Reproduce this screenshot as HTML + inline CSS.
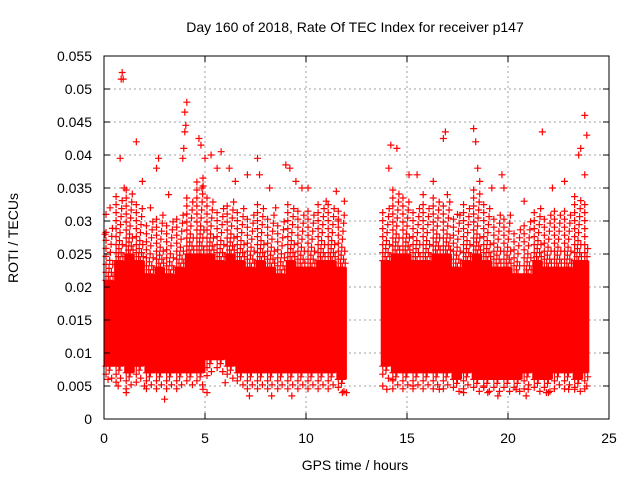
<!DOCTYPE html>
<html><head><meta charset="utf-8"><style>
body{margin:0;background:#fff;}
svg text{font-family:"Liberation Sans","DejaVu Sans",sans-serif;font-size:14px;fill:#000;}
</style></head><body>
<svg id="chart" width="640" height="480" viewBox="0 0 640 480" xmlns="http://www.w3.org/2000/svg">
<rect width="640" height="480" fill="#fff"/>
<text x="355" y="32" text-anchor="middle">Day 160 of 2018, Rate Of TEC Index for receiver p147</text>
<text x="355" y="470" text-anchor="middle">GPS time / hours</text>
<text transform="translate(18,238) rotate(-90)" text-anchor="middle">ROTI / TECUs</text>
<g id="grid"></g>
<g id="core"></g>
<g id="pts"></g>
<g id="axes"></g>
</svg>
<script>
const xTicks=[0,5,10,15,20,25];
const yTicks=[0,0.005,0.01,0.015,0.02,0.025,0.03,0.035,0.04,0.045,0.05,0.055];
const yTickLabels=["0","0.005","0.01","0.015","0.02","0.025","0.03","0.035","0.04","0.045","0.05","0.055"];
const bandStart=[0,0.5,1,1.5,2,2.5,3,3.5,4,4.5,5,5.5,6,6.5,7,7.5,8,8.5,9,9.5,10,10.5,11,11.5,13.7,14.2,14.7,15.2,15.7,16.2,16.7,17.2,17.7,18.2,18.7,19.2,19.7,20.2,20.7,21.2,21.7,22.2,22.7,23.2,23.7];
const bandEnd=[0.5,1,1.5,2,2.5,3,3.5,4,4.5,5,5.5,6,6.5,7,7.5,8,8.5,9,9.5,10,10.5,11,11.5,12,14.2,14.7,15.2,15.7,16.2,16.7,17.2,17.7,18.2,18.7,19.2,19.7,20.2,20.7,21.2,21.7,22.2,22.7,23.2,23.7,24];
const bandLow=[0.008,0.008,0.007,0.008,0.007,0.007,0.007,0.007,0.007,0.007,0.009,0.009,0.008,0.007,0.007,0.007,0.007,0.007,0.007,0.007,0.007,0.007,0.007,0.006,0.008,0.007,0.007,0.007,0.007,0.007,0.007,0.006,0.007,0.006,0.006,0.006,0.006,0.006,0.007,0.006,0.006,0.007,0.007,0.006,0.007];
const bandHigh=[0.021,0.024,0.025,0.024,0.022,0.023,0.022,0.023,0.025,0.025,0.025,0.024,0.025,0.024,0.023,0.024,0.023,0.022,0.024,0.023,0.023,0.024,0.024,0.023,0.024,0.025,0.025,0.024,0.024,0.025,0.025,0.023,0.024,0.025,0.024,0.023,0.023,0.022,0.022,0.024,0.023,0.023,0.023,0.024,0.024];
const sparseHigh=[0.029,0.034,0.035,0.033,0.030,0.031,0.030,0.031,0.034,0.036,0.034,0.032,0.033,0.032,0.031,0.033,0.031,0.030,0.033,0.032,0.032,0.033,0.033,0.032,0.032,0.035,0.034,0.032,0.033,0.034,0.033,0.031,0.033,0.035,0.033,0.031,0.031,0.029,0.030,0.032,0.031,0.032,0.032,0.034,0.033];
const sparseLow=[0.006,0.005,0.0045,0.005,0.0045,0.0045,0.0045,0.0045,0.005,0.005,0.006,0.007,0.006,0.005,0.0045,0.0045,0.004,0.004,0.0045,0.0045,0.0045,0.0045,0.0045,0.004,0.006,0.0045,0.0045,0.0045,0.0045,0.004,0.004,0.004,0.004,0.004,0.004,0.004,0.004,0.004,0.004,0.004,0.004,0.0045,0.0045,0.004,0.0045];
const ptT=[0.9,0.85,0.95,1.6,0.8,1.0,0.1,0.05,0.3,1.9,2.3,2.7,2.6,3.2,3.9,4.0,4.05,4.1,4.0,3.95,4.7,4.8,4.9,4.85,5.0,5.3,5.6,5.8,6.2,6.5,7.1,7.6,7.7,8.2,8.5,9.0,9.2,9.5,9.8,10.1,11.0,11.5,11.9,11.6,0.7,1.1,3.0,4.9,7.2,8.3,9.3,11.8,0.2,2.0,5.1,6.0,12.0,
14.2,14.5,14.1,15.1,15.5,15.8,16.3,16.9,16.8,17.0,17.5,18.3,18.4,18.5,18.6,19.2,19.7,19.8,21.7,20.8,22.2,22.8,23.5,23.8,23.9,23.6,23.8,14.0,15.3,16.6,17.8,19.0,19.5,20.9,21.0,22.0,23.0,13.8,14.3,18.8,20.4,21.9,23.3,23.9];
const ptV=[0.0525,0.0515,0.0515,0.042,0.0395,0.035,0.031,0.028,0.032,0.036,0.032,0.0395,0.038,0.034,0.0395,0.0465,0.0445,0.048,0.0435,0.041,0.0425,0.0415,0.0365,0.035,0.0395,0.040,0.038,0.0405,0.038,0.036,0.037,0.0395,0.037,0.035,0.032,0.0385,0.038,0.036,0.035,0.035,0.033,0.0345,0.033,0.030,0.005,0.004,0.003,0.0045,0.0035,0.0035,0.0035,0.004,0.006,0.005,0.004,0.0055,0.004,
0.0415,0.041,0.038,0.037,0.037,0.034,0.036,0.0435,0.0425,0.034,0.031,0.044,0.042,0.038,0.036,0.035,0.037,0.035,0.0435,0.033,0.035,0.036,0.040,0.046,0.043,0.041,0.037,0.0045,0.005,0.0045,0.004,0.004,0.0035,0.0035,0.0045,0.004,0.0045,0.005,0.006,0.005,0.0045,0.004,0.0045,0.005];
const X=t=>104+t*(505/25);
const Y=v=>419-v*(363/0.055);
const NS="http://www.w3.org/2000/svg";
function mk(tag,attrs,parent){const e=document.createElementNS(NS,tag);for(const k in attrs)e.setAttribute(k,attrs[k]);parent.appendChild(e);return e;}
const grid=document.getElementById('grid'),axes=document.getElementById('axes'),core=document.getElementById('core'),pts=document.getElementById('pts');
xTicks.forEach((t,i)=>{
  if(i>0&&i<xTicks.length-1){const g=mk('line',{x1:X(t),x2:X(t),y1:Y(0.055),y2:Y(0),stroke:'#a0a0a0','stroke-dasharray':'2,3'},grid);
  }
  mk('line',{x1:X(t),x2:X(t),y1:Y(0),y2:Y(0)-6,stroke:'#000'},axes);
  mk('line',{x1:X(t),x2:X(t),y1:Y(0.055),y2:Y(0.055)+6,stroke:'#000'},axes);
  const l=mk('text',{x:X(t),y:443,'text-anchor':'middle'},axes);l.textContent=t;
  
});
yTicks.forEach((v,i)=>{
  if(i>0&&i<yTicks.length-1){const g=mk('line',{x1:X(0),x2:X(25),y1:Y(v),y2:Y(v),stroke:'#a0a0a0','stroke-dasharray':'2,3'},grid);
  }
  mk('line',{x1:X(0),x2:X(0)+6,y1:Y(v),y2:Y(v),stroke:'#000'},axes);
  mk('line',{x1:X(25),x2:X(25)-6,y1:Y(v),y2:Y(v),stroke:'#000'},axes);
  const l=mk('text',{x:92,y:Y(v)+5,'text-anchor':'end'},axes);l.textContent=yTickLabels[i];
  
});
const frame=mk('rect',{x:X(0),y:Y(0.055),width:X(25)-X(0),height:Y(0)-Y(0.055),fill:'none',stroke:'#000'},axes);

function plus(px,py,parent,name){
  const p=mk('path',{d:`M${px-3.5},${py}h7M${px},${py-3.5}v7`,stroke:'#ff0000','stroke-width':1.2,fill:'none'},parent);
  
}
bandStart.forEach((s,i)=>{
  const r=mk('rect',{x:X(s),y:Y(bandHigh[i]),width:X(bandEnd[i])-X(s)+0.5,height:Y(bandLow[i])-Y(bandHigh[i]),fill:'#ff0000'},core);
  
  // scattered fringe above and below the dense core, thinning with distance
  const x0=X(s)+2,x1=X(bandEnd[i])-1;
  const yTop=Y(sparseHigh[i]),yCore=Y(bandHigh[i]);
  let row=0;
  for(let y=yCore;y>=yTop;y-=4,row++){
    const frac=(yCore-y)/Math.max(1,yCore-yTop);
    const step=4+frac*9;
    for(let x=x0+((row%2)?step/2:0);x<=x1;x+=step) plus(x,y,core,'fringe-point');
  }
  const yBot=Y(sparseLow[i]),yCoreB=Y(bandLow[i]);
  row=0;
  for(let y=yCoreB;y<=yBot;y+=4,row++){
    const frac=(y-yCoreB)/Math.max(1,yBot-yCoreB);
    const step=4+frac*8;
    for(let x=x0+((row%2)?step/2:0);x<=x1;x+=step) plus(x,y,core,'fringe-point');
  }
});
ptT.forEach((t,i)=>{plus(X(t),Y(ptV[i]),pts,'data-point');});
</script>
</body></html>
